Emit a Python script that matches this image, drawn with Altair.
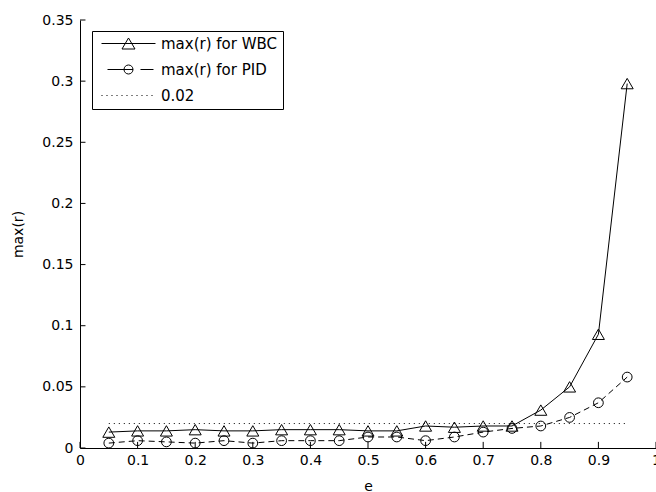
import altair as alt
import pandas as pd

# ---- data ----
e_values = [0.05, 0.10, 0.15, 0.20, 0.25, 0.30, 0.35, 0.40, 0.45, 0.50,
            0.55, 0.60, 0.65, 0.70, 0.75, 0.80, 0.85, 0.90, 0.95]
wbc_values = [0.013, 0.014, 0.014, 0.015, 0.014, 0.014, 0.015, 0.015, 0.015, 0.014,
              0.014, 0.018, 0.017, 0.018, 0.018, 0.031, 0.050, 0.093, 0.298]
pid_values = [0.004, 0.006, 0.005, 0.004, 0.006, 0.004, 0.006, 0.006, 0.006, 0.009,
              0.009, 0.006, 0.009, 0.013, 0.016, 0.018, 0.025, 0.037, 0.058]
threshold_e = [0.05, 0.95]
threshold_value = 0.02
series_names = ["max(r) for WBC", "max(r) for PID", "0.02"]
x_tick_values = [0, 0.1, 0.2, 0.3, 0.4, 0.5, 0.6, 0.7, 0.8, 0.9, 1]
y_tick_values = [0, 0.05, 0.1, 0.15, 0.2, 0.25, 0.3, 0.35]

FONT = "DejaVu Sans"

wbc_df = pd.DataFrame({"e": e_values, "r": wbc_values, "series": series_names[0]})
pid_df = pd.DataFrame({"e": e_values, "r": pid_values, "series": series_names[1]})
thr_df = pd.DataFrame({"e": threshold_e, "r": [threshold_value] * len(threshold_e),
                       "series": series_names[2]})
all_df = pd.concat([wbc_df, pid_df, thr_df], ignore_index=True)

# inward tick marks (drawn through the scales)
x_tick_len = 0.005   # in data units of r
y_tick_len = 0.0095  # in data units of e
xt_df = pd.DataFrame({"e": x_tick_values, "r0": 0.0, "r1": x_tick_len})
yt_df = pd.DataFrame({"r": y_tick_values, "e0": 0.0, "e1": y_tick_len})

x_scale = alt.Scale(domain=[0, 1], nice=False, zero=False)
y_scale = alt.Scale(domain=[0, 0.35], nice=False, zero=False)

x_axis = alt.Axis(values=x_tick_values, title="e", grid=False, ticks=False,
                  labelExpr="format(datum.value, '~g')", labelPadding=5,
                  titlePadding=12, domainColor="black", labelFlush=False,
                  labelOverlap=False)
y_axis = alt.Axis(values=y_tick_values, title="max(r)", grid=False, ticks=False,
                  labelExpr="format(datum.value, '~g')", labelPadding=7,
                  titlePadding=16, domainColor="black", labelFlush=False,
                  labelOverlap=False)

X = alt.X("e:Q", scale=x_scale, axis=x_axis)
Y = alt.Y("r:Q", scale=y_scale, axis=y_axis)

wbc_line = alt.Chart(wbc_df).mark_line(color="black", strokeWidth=1).encode(x=X, y=Y)
wbc_pts = alt.Chart(wbc_df).mark_point(shape="triangle-up", filled=False, color="black",
                                        size=144, strokeWidth=1, opacity=1).encode(x=X, y=Y)
pid_line = alt.Chart(pid_df).mark_line(color="black", strokeWidth=1,
                                       strokeDash=[6, 4]).encode(x=X, y=Y)
pid_pts = alt.Chart(pid_df).mark_point(shape="circle", filled=False, color="black",
                                       size=95, strokeWidth=1, opacity=1).encode(x=X, y=Y)
thr_line = alt.Chart(thr_df).mark_line(color="black", strokeWidth=1,
                                       strokeDash=[1, 4]).encode(x=X, y=Y)

x_ticks = alt.Chart(xt_df).mark_rule(color="black", strokeWidth=1).encode(
    x=alt.X("e:Q", scale=x_scale, axis=x_axis),
    y=alt.Y("r0:Q", scale=y_scale, axis=y_axis), y2="r1:Q")
y_ticks = alt.Chart(yt_df).mark_rule(color="black", strokeWidth=1).encode(
    x=alt.X("e0:Q", scale=x_scale, axis=x_axis), x2="e1:Q",
    y=alt.Y("r:Q", scale=y_scale, axis=y_axis))

# legend symbols: line + marker drawn as custom paths (units: 7 px, size 196)
U = 7.0


def p(v):
    return "%.3f" % (v / U)


wbc_sym = ("M%s,0H%s" % (p(-27), p(27)) +
           "M%s,%sL0,%sL%s,%sZ" % (p(-6.5), p(5.5), p(-5.5), p(6.5), p(5.5)))
r_c = 4.5
pid_sym = ("M%s,0H%s" % (p(-21), p(r_c)) + "M%s,0H%s" % (p(12), p(25)) +
           "M%s,0A%s,%s 0 1,1 %s,0A%s,%s 0 1,1 %s,0" % (
               p(r_c), p(r_c), p(r_c), p(-r_c), p(r_c), p(r_c), p(r_c)))
dots = []
k = -27.0
while k < 27.0:
    dots.append("M%s,0h%s" % (p(k), p(1)))
    k += 5.0
thr_sym = "".join(dots)

legend_layer = alt.Chart(all_df).mark_point(opacity=0, filled=False).encode(
    x=X, y=Y,
    shape=alt.Shape("series:N",
                    scale=alt.Scale(domain=series_names, range=[wbc_sym, pid_sym, thr_sym]),
                    legend=alt.Legend(title=None, orient="none", legendX=12, legendY=11,
                                      strokeColor="black", fillColor="white", padding=5,
                                      symbolOffset=24, symbolSize=196, labelOffset=25,
                                      symbolStrokeColor="black", symbolFillColor="transparent",
                                      symbolStrokeWidth=1, symbolOpacity=1,
                                      labelFont=FONT, labelFontSize=15, labelColor="black",
                                      labelExpr="datum.label + '\u00a0\u00a0'",
                                      rowPadding=10, cornerRadius=0, labelLimit=300)),
)

chart = alt.layer(
    thr_line, wbc_line, pid_line, wbc_pts, pid_pts, x_ticks, y_ticks, legend_layer
).properties(
    width=576, height=428,
    autosize=alt.AutoSizeParams(type="none"),
    padding={"left": 80, "top": 20, "right": 0, "bottom": 44},
    background="white",
).configure(font=FONT).configure_axis(
    labelFont=FONT, titleFont=FONT, labelFontSize=14, titleFontSize=14,
    labelColor="black", titleColor="black", titleFontWeight="normal",
    domainWidth=1,
).configure_view(strokeWidth=0)

chart.save("out.html", embed_options={"renderer": "svg", "actions": False})
